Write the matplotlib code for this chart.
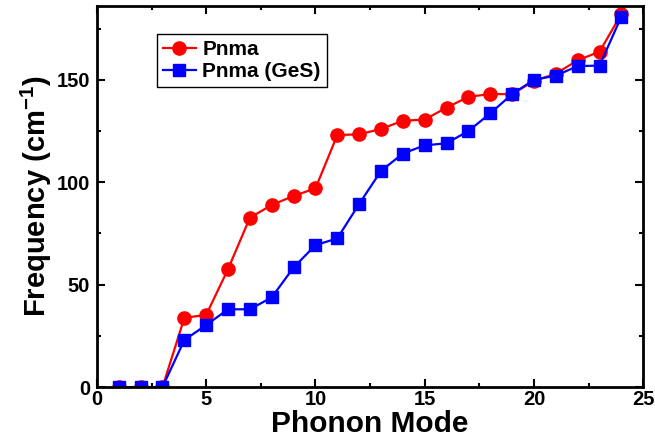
import matplotlib
matplotlib.use('Agg')
from matplotlib import pyplot as plt
from matplotlib.ticker import MultipleLocator

plt.rcParams['font.family'] = ['Liberation Sans', 'DejaVu Sans']
plt.rcParams['font.weight'] = 'bold'
plt.rcParams['mathtext.fontset'] = 'custom'
plt.rcParams['mathtext.rm'] = 'Liberation Sans:bold'
plt.rcParams['mathtext.bf'] = 'Liberation Sans:bold'

mode = list(range(1, 25))
pnma = [0, 0, 0, 33.8, 35.3, 57.6, 82.7, 88.9, 93.3, 97, 123, 123.4,
        126, 130, 130.6, 136.4, 141.7, 143, 143, 149.4, 153, 159.5, 163.7, 182]
pnma_ges = [0, 0, 0, 23, 30.3, 38, 38, 43.8, 58.4, 69.3, 72.6, 89.4,
            105.5, 114, 118, 119, 125, 133.6, 143, 150, 152, 156.7, 156.9, 180.8]

fig = plt.figure(figsize=(6.55, 4.45), dpi=100)
ax = fig.add_axes([0.148, 0.130, 0.834, 0.8565])

ax.plot(mode, pnma, '-o', color='#ff0000', lw=1.6, ms=9.5, label='Pnma')
ax.plot(mode, pnma_ges, '-s', color='#0000ff', lw=1.6, ms=8, label='Pnma (GeS)')

ax.set_xlim(0, 25)
ax.set_ylim(0, 186)
ax.xaxis.set_major_locator(MultipleLocator(5))
ax.xaxis.set_minor_locator(MultipleLocator(2.5))
ax.yaxis.set_major_locator(MultipleLocator(50))
ax.yaxis.set_minor_locator(MultipleLocator(25))
ax.tick_params(which='both', direction='in', top=True, right=True, width=1.5)
ax.tick_params(which='major', length=6, labelsize=14.5, pad=2)
ax.tick_params(axis='y', which='major', pad=5)
ax.tick_params(which='minor', length=3)
for s in ax.spines.values():
    s.set_linewidth(2)

ax.set_xlabel('Phonon Mode', fontsize=21.5, fontweight='bold', labelpad=1)
ax.set_ylabel('Frequency (cm$^{-1}$)', fontsize=21, fontweight='bold', labelpad=2)

leg = ax.legend(loc='upper left', bbox_to_anchor=(0.09, 0.955), fontsize=15,
                handlelength=1.6, handletextpad=0.3, borderpad=0.3,
                labelspacing=0.15, fancybox=False, edgecolor='black', framealpha=1)
leg.get_frame().set_linewidth(1)

fig.savefig('out.png', dpi=100)
